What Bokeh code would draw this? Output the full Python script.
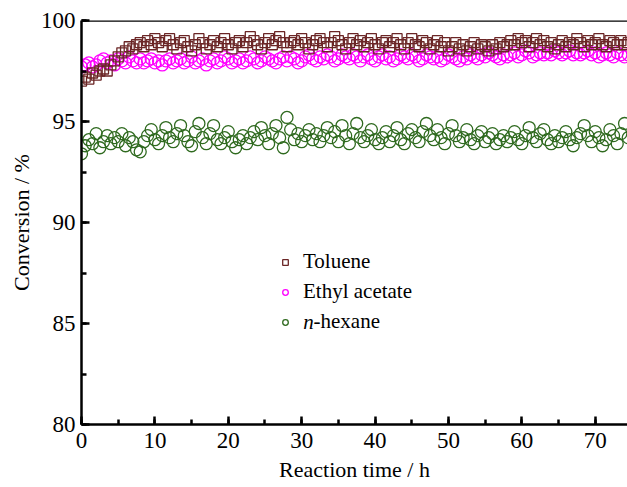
from bokeh.plotting import figure
from bokeh.models import Span, Legend, LegendItem, Range1d, SingleIntervalTicker, ColumnDataSource, Label
from bokeh.embed import file_html
from bokeh.resources import INLINE

hours = [i * 0.5 for i in range(150)]

toluene = [
    97.0, 97.2, 97.1, 97.4, 97.3, 97.5, 97.6, 97.5, 97.8, 98.0, 98.2, 98.4, 98.5, 98.7, 98.6, 98.8, 98.9,
    98.7, 99.0, 98.8, 99.1, 98.9, 98.7, 99.0, 99.1, 98.8, 98.6,
    98.9, 99.0, 98.7, 98.5, 98.8, 99.1, 98.9, 98.6, 98.8, 99.0,
    98.7, 98.9, 99.1, 98.8, 98.6, 98.9, 99.0, 98.7, 98.9, 99.2,
    99.0, 98.8, 98.6, 98.9, 99.1, 98.8, 99.0, 99.2, 98.9, 98.7,
    98.9, 99.0, 98.8, 99.1, 98.9, 98.6, 98.8, 99.0, 99.1, 98.9,
    98.7, 98.9, 99.2, 99.0, 98.8, 98.6, 98.9, 99.1, 98.8, 99.0,
    98.7, 98.9, 99.1, 98.8, 98.6, 98.9, 99.0, 98.7, 98.9, 99.1,
    98.8, 98.6, 98.9, 99.1, 98.8, 98.7, 99.0, 98.9, 98.6, 98.8,
    99.0, 98.7, 98.9, 98.5, 98.7, 98.9, 98.6, 98.8, 98.5, 98.7,
    98.9, 98.6, 98.8, 98.7, 98.5, 98.8, 98.6, 98.9, 98.7, 98.8,
    99.0, 98.8, 99.1, 98.9, 99.0, 98.7, 98.9, 99.1, 98.8, 99.0,
    98.7, 98.9, 98.6, 98.8, 99.0, 98.7, 98.9, 98.8, 99.1, 98.9,
    98.7, 99.0, 98.8, 98.9, 99.1, 98.8, 98.7, 99.0, 98.9, 98.8,
    99.0, 98.8, 98.9,
]

ethyl_acetate = [
    97.7, 97.8, 97.9, 97.7, 97.8, 98.0, 98.1, 97.9, 98.0, 97.8, 98.1, 98.0, 97.9, 98.2, 98.0, 97.9, 98.1,
    97.9, 98.0, 98.1, 97.9, 98.0, 97.8, 98.0, 98.1, 97.9, 98.0,
    98.1, 97.9, 98.0, 98.2, 97.9, 98.0, 98.1, 97.8, 98.0, 98.1,
    97.9, 98.0, 98.2, 98.1, 97.9, 98.0, 98.1, 97.9, 98.0, 98.2,
    98.1, 97.9, 98.0, 98.2, 98.1, 98.0, 97.9, 98.1, 98.2, 98.0,
    98.2, 98.1, 97.9, 98.0, 98.2, 98.3, 98.1, 98.0, 98.2, 98.1,
    98.3, 98.2, 98.0, 98.1, 98.3, 98.2, 98.1, 98.3, 98.2, 98.0,
    98.2, 98.3, 98.1, 98.0, 98.2, 98.3, 98.1, 98.2, 98.0, 98.1,
    98.3, 98.2, 98.1, 98.3, 98.2, 98.0, 98.1, 98.3, 98.2, 98.1,
    98.2, 98.0, 98.1, 98.3, 98.2, 98.1, 98.0, 98.2, 98.1, 98.3,
    98.2, 98.1, 98.3, 98.2, 98.4, 98.3, 98.2, 98.1, 98.3, 98.2,
    98.3, 98.4, 98.2, 98.3, 98.5, 98.4, 98.2, 98.3, 98.4, 98.3,
    98.4, 98.3, 98.5, 98.4, 98.3, 98.4, 98.5, 98.3, 98.4, 98.3,
    98.4, 98.5, 98.3, 98.4, 98.2, 98.3, 98.4, 98.3, 98.2, 98.4,
    98.3, 98.2, 98.3,
]

n_hexane = [
    93.4, 93.8, 94.1, 93.9, 94.4, 93.7, 94.0, 94.3, 93.9, 94.2, 94.0, 94.4, 93.8, 94.2, 94.0, 93.6, 93.5,
    94.0, 94.3, 94.6, 94.1, 93.9, 94.3, 94.7, 94.2, 94.0, 94.4,
    94.8, 94.3, 94.0, 93.8, 94.5, 94.9, 94.2, 93.9, 94.4, 94.8,
    94.1, 93.9, 94.2, 94.5, 94.0, 93.7, 94.1, 94.3, 93.9, 94.2,
    94.5, 94.1, 94.7, 94.3, 93.9, 94.4, 94.8, 94.2, 93.7, 95.2,
    94.6, 94.1, 94.4, 94.0, 94.3, 94.6, 94.1, 94.4, 94.0, 94.3,
    94.7, 94.2, 94.5, 94.0, 94.8, 94.3, 93.9, 94.4, 94.9, 94.2,
    94.0, 94.3, 94.6, 94.1, 93.9, 94.2, 94.5, 94.0, 94.3, 94.7,
    94.1, 93.9, 94.4, 94.6, 94.2, 94.0, 94.5, 94.9, 94.3, 94.1,
    94.6, 94.2, 93.9, 94.4, 94.8, 94.3, 94.0, 94.2, 94.6, 94.1,
    93.9, 94.3, 94.5, 94.0, 94.2, 94.4, 93.9, 94.1, 94.3, 94.0,
    94.2, 94.5, 94.1, 93.9, 94.3, 94.7, 94.2, 94.0, 94.4, 94.6,
    94.1, 93.9, 94.3, 94.0, 94.2, 94.5, 94.1, 93.8, 94.2, 94.4,
    94.8, 94.3, 94.0, 94.5, 94.2, 93.8, 94.1, 94.6, 94.3, 93.9,
    94.4, 94.9, 94.2,
]

# legend labels; the italic "n" of n-hexane is drawn as its own label,
# the en space keeps its place in the legend text
series_names = ["Toluene", "Ethyl acetate", "\u2002-hexane"]
italic_prefix = "n"
colors = ["#6B2626", "#FF00FF", "#2F6A1F"]

FONT = "Liberation Serif"

p = figure(width=627, height=487, output_backend="svg", toolbar_location=None,
           x_range=Range1d(0, 74.4), y_range=Range1d(80, 100),
           min_border_left=81, min_border_right=0, min_border_top=20, min_border_bottom=63)
p.outline_line_color = None
p.xgrid.visible = False
p.ygrid.visible = False

src = ColumnDataSource(dict(h=hours, tol=toluene, ea=ethyl_acetate, hx=n_hexane))

r_hx = p.scatter("h", "hx", source=src, marker="circle", size=12, fill_color=None,
                 line_color=colors[2], line_width=1.3)
r_ea = p.scatter("h", "ea", source=src, marker="circle", size=12, fill_color=None,
                 line_color=colors[1], line_width=1.3)
r_tol = p.scatter("h", "tol", source=src, marker="square", size=10, fill_color=None,
                  line_color=colors[0], line_width=1.3)

p.add_layout(Span(location=100, dimension="width", line_color="black", line_width=2.5))

for ax in (p.xaxis[0], p.yaxis[0]):
    ax.axis_line_width = 2.5
    ax.major_tick_line_width = 2.5
    ax.minor_tick_line_width = 2.5
    ax.major_tick_in = 8
    ax.major_tick_out = 0
    ax.minor_tick_in = 5
    ax.minor_tick_out = 0
    ax.major_label_text_font = FONT
    ax.major_label_text_font_size = "23px"
    ax.major_label_text_color = "black"
    ax.axis_label_text_font = FONT
    ax.axis_label_text_font_size = "22px"
    ax.axis_label_text_font_style = "normal"
    ax.axis_label_text_color = "black"

p.xaxis.major_label_standoff = 8
p.yaxis.major_label_standoff = 6
p.xaxis.ticker = SingleIntervalTicker(interval=10, num_minor_ticks=2)
p.yaxis.ticker = SingleIntervalTicker(interval=5, num_minor_ticks=2)
p.xaxis.axis_label = "Reaction time / h"
p.yaxis.axis_label = "Conversion / %"
p.xaxis.axis_label_standoff = 6
p.yaxis.axis_label_standoff = 4

legend = Legend(items=[LegendItem(label=series_names[0], renderers=[r_tol]),
                       LegendItem(label=series_names[1], renderers=[r_ea]),
                       LegendItem(label=series_names[2], renderers=[r_hx])],
                location=(197, 90), orientation="vertical",
                border_line_color=None, background_fill_alpha=0,
                padding=0, margin=0, spacing=5,
                glyph_width=14, glyph_height=14, label_standoff=11,
                label_text_font=FONT, label_text_font_size="21px",
                label_text_color="black")
p.add_layout(legend)

p.add_layout(Label(x=30.2, y=85.05, text=italic_prefix, text_font=FONT, text_font_size="21px",
                   text_font_style="italic", text_baseline="middle", text_align="left",
                   text_color="black"))

open("out.html", "w").write(file_html(p, INLINE))
